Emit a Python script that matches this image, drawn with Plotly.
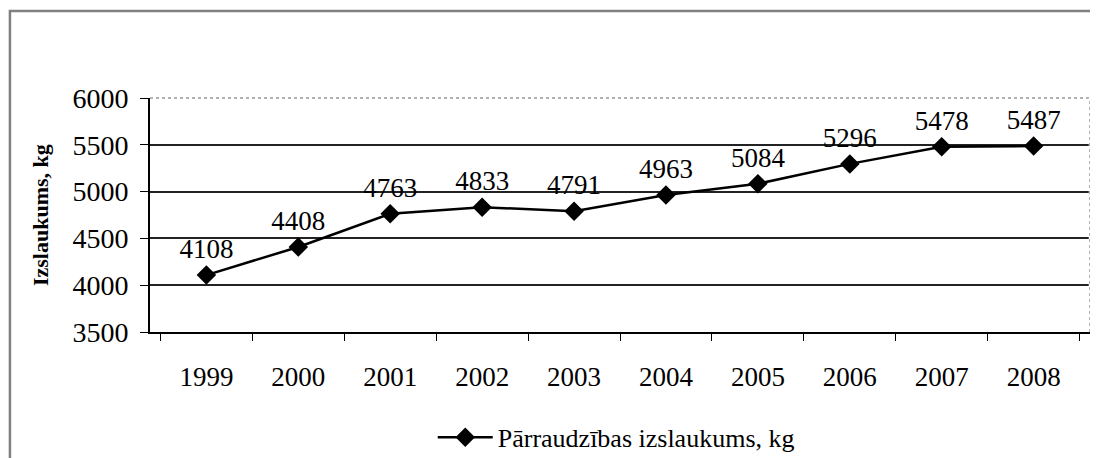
import plotly.graph_objects as go

years = ["1999", "2000", "2001", "2002", "2003", "2004", "2005", "2006", "2007", "2008"]
yield_kg = [4108, 4408, 4763, 4833, 4791, 4963, 5084, 5296, 5478, 5487]
y_ticks = [3500, 4000, 4500, 5000, 5500, 6000]
series_name = "Pārraudzības izslaukums, kg"
y_title = "Izslaukums, kg"

FONT = "Liberation Serif, Times New Roman, serif"

fig = go.Figure()
fig.add_trace(go.Scatter(
    x=years, y=yield_kg, name=series_name,
    mode="lines+markers+text",
    line=dict(color="black", width=2.5),
    marker=dict(symbol="diamond", size=15, color="black"),
    text=[str(v) for v in yield_kg],
    textposition="top center",
    textfont=dict(family=FONT, size=27, color="black"),
    cliponaxis=False,
))

fig.update_layout(
    width=1098, height=458,
    margin=dict(l=142, r=16, t=90, b=134, autoexpand=False),
    paper_bgcolor="white", plot_bgcolor="white",
    font=dict(family=FONT, size=27, color="black"),
    showlegend=True,
    legend=dict(x=0.496, xanchor="center", y=-0.45, yanchor="middle",
                orientation="h", itemwidth=55, font=dict(family=FONT, size=26),
                bgcolor="rgba(0,0,0,0)"),
    xaxis=dict(type="category", tickson="boundaries", ticks="outside", ticklen=7,
               tickcolor="black", showline=True, linecolor="black", linewidth=2,
               showgrid=False, tickfont=dict(family=FONT, size=27), ticklabelstandoff=20,
               automargin=False),
    yaxis=dict(range=[3500, 6000], tickvals=y_ticks, ticks="outside", ticklen=8,
               tickcolor="black", showline=True, linecolor="black", linewidth=2,
               showgrid=True, gridcolor="#222222", gridwidth=1.5,
               tickfont=dict(family=FONT, size=28), ticklabelstandoff=6,
               zeroline=False, automargin=False),
)

# y-axis title
fig.add_annotation(text="<b>" + y_title + "</b>", xref="paper", yref="paper",
                   x=-0.117, y=0.50, xanchor="center", yanchor="middle",
                   textangle=-90, showarrow=False,
                   font=dict(family=FONT, size=22, color="black"))

# top and right borders of plot area (dotted gray)
for (x0, y0, x1, y1) in [(0, 1, 1, 1), (1, 0, 1, 1)]:
    fig.add_shape(type="line", xref="paper", yref="paper", x0=x0, y0=y0, x1=x1, y1=y1,
                  line=dict(color="white", width=2.5), layer="above")
    fig.add_shape(type="line", xref="paper", yref="paper", x0=x0, y0=y0, x1=x1, y1=y1,
                  line=dict(color="#999999", width=1.5, dash="dot"), layer="above")

# outer chart border
fig.add_shape(type="rect", xref="paper", yref="paper",
              x0=-0.149, y0=-0.7, x1=1.03, y1=1.372,
              line=dict(color="#808080", width=2.5), layer="above")

fig.write_html("out.html")
